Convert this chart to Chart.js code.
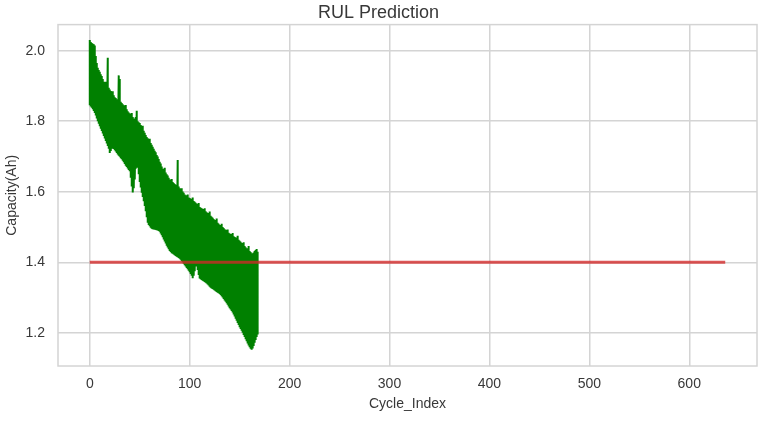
<!DOCTYPE html>
<html>
<head>
<meta charset="utf-8">
<script src="https://cdn.jsdelivr.net/npm/chart.js@4.4.1/dist/chart.umd.min.js"></script>
<style>
  html, body { margin: 0; padding: 0; background: #ffffff; }
  #wrap { width: 766px; height: 421px; }
</style>
</head>
<body>
<div id="wrap"><canvas id="c" width="766" height="421"></canvas></div>
<script>
// ---- data ----
const firstCycle = 0;
// upper edge of the oscillating capacity trace, one value per cycle (0..168)
const upperCap = [
  2.030,2.025,2.022,2.020,2.018,2.015,1.985,1.965,1.952,1.945,
  1.940,1.933,1.928,1.920,1.912,1.905,1.912,1.898,1.980,1.895,
  1.890,1.886,1.882,1.885,1.874,1.868,1.866,1.862,1.858,1.930,
  1.920,1.855,1.852,1.848,1.845,1.841,1.846,1.834,1.828,1.825,
  1.822,1.818,1.823,1.812,1.808,1.805,1.812,1.830,1.800,1.797,
  1.795,1.789,1.783,1.787,1.773,1.767,1.761,1.755,1.752,1.748,
  1.750,1.738,1.733,1.728,1.722,1.716,1.712,1.704,1.700,1.693,
  1.685,1.680,1.672,1.665,1.662,1.668,1.655,1.650,1.646,1.640,
  1.635,1.632,1.636,1.628,1.625,1.622,1.620,1.618,1.690,1.615,
  1.610,1.606,1.610,1.601,1.597,1.592,1.590,1.588,1.592,1.584,
  1.582,1.580,1.577,1.584,1.574,1.572,1.569,1.566,1.564,1.568,
  1.557,1.555,1.553,1.551,1.549,1.553,1.545,1.542,1.540,1.537,
  1.544,1.532,1.529,1.526,1.523,1.520,1.517,1.524,1.512,1.509,
  1.506,1.503,1.509,1.500,1.497,1.494,1.492,1.489,1.493,1.484,
  1.482,1.480,1.478,1.483,1.474,1.472,1.470,1.468,1.475,1.464,
  1.461,1.458,1.455,1.452,1.457,1.446,1.443,1.440,1.437,1.446,
  1.432,1.429,1.426,1.425,1.428,1.432,1.435,1.438,1.430
];
// lower edge of the oscillating capacity trace, one value per cycle (0..168)
const lowerCap = [
  1.845,1.842,1.838,1.834,1.829,1.823,1.816,1.808,1.800,1.793,
  1.786,1.779,1.772,1.765,1.758,1.751,1.744,1.737,1.730,1.722,
  1.710,1.716,1.722,1.725,1.721,1.718,1.714,1.710,1.706,1.702,
  1.699,1.695,1.692,1.688,1.684,1.679,1.674,1.670,1.666,1.662,
  1.658,1.640,1.615,1.598,1.610,1.635,1.665,1.672,1.668,1.650,
  1.628,1.612,1.597,1.585,1.573,1.560,1.545,1.528,1.512,1.506,
  1.502,1.498,1.495,1.494,1.493,1.492,1.492,1.491,1.490,1.489,
  1.487,1.482,1.477,1.471,1.465,1.459,1.453,1.447,1.442,1.437,
  1.432,1.429,1.426,1.424,1.422,1.420,1.418,1.416,1.414,1.412,
  1.410,1.407,1.404,1.400,1.396,1.392,1.388,1.384,1.380,1.376,
  1.372,1.367,1.362,1.355,1.362,1.375,1.388,1.394,1.378,1.364,
  1.354,1.352,1.350,1.348,1.346,1.344,1.342,1.340,1.337,1.334,
  1.331,1.328,1.326,1.324,1.322,1.320,1.318,1.316,1.314,1.312,
  1.310,1.307,1.304,1.300,1.296,1.292,1.288,1.284,1.280,1.275,
  1.270,1.266,1.262,1.258,1.252,1.246,1.240,1.234,1.228,1.222,
  1.216,1.211,1.206,1.200,1.194,1.188,1.182,1.176,1.170,1.164,
  1.159,1.155,1.152,1.156,1.163,1.172,1.180,1.188,1.195
];
// end-of-life threshold line
const thresholdCycles = [0, 636];
const thresholdCap = [1.4, 1.4];
// tick labels
const xTicks = [0, 100, 200, 300, 400, 500, 600];
const yTicks = [1.2, 1.4, 1.6, 1.8, 2.0];

// ---- build datasets ----
const capacityPoints = [];
for (let i = 0; i < upperCap.length; i++) {
  capacityPoints.push({ x: firstCycle + i, y: upperCap[i] });
  capacityPoints.push({ x: firstCycle + i, y: lowerCap[i] });
}
const thresholdPoints = thresholdCycles.map((c, i) => ({ x: c, y: thresholdCap[i] }));

const FONT = '"Liberation Sans", Arial, "DejaVu Sans", sans-serif';
const TXT = '#383838';
const GRID = '#d4d4d4';

const frame = {
  id: 'frame',
  beforeDatasetsDraw(chart) {
    const { ctx, chartArea: a } = chart;
    ctx.save();
    ctx.strokeStyle = GRID;
    ctx.lineWidth = 1.5;
    ctx.strokeRect(a.left, a.top, a.right - a.left, a.bottom - a.top);
    ctx.restore();
  }
};

new Chart(document.getElementById('c'), {
  type: 'line',
  data: {
    datasets: [
      {
        label: 'threshold',
        data: thresholdPoints,
        borderColor: 'rgba(210,40,40,0.78)',
        borderWidth: 3,
        pointRadius: 0,
        tension: 0
      },
      {
        label: 'capacity',
        data: capacityPoints,
        borderColor: '#008000',
        borderWidth: 2,
        pointRadius: 0,
        tension: 0
      }
    ]
  },
  options: {
    responsive: false,
    animation: false,
    layout: { padding: { left: 0, right: 9, top: 0, bottom: 0 } },
    plugins: {
      legend: { display: false },
      tooltip: { enabled: false },
      title: {
        display: true,
        text: 'RUL Prediction',
        color: TXT,
        font: { family: FONT, size: 18, weight: 'normal', lineHeight: 1.2 },
        padding: { top: 2, bottom: 1 }
      }
    },
    scales: {
      x: {
        type: 'linear',
        min: -31.8,
        max: 667.8,
        afterBuildTicks: s => { s.ticks = xTicks.map(v => ({ value: v })); },
        afterFit: s => { s.height = 55; },
        grid: { color: GRID, lineWidth: 1.5, drawTicks: false },
        border: { display: false },
        ticks: {
          color: TXT, padding: 10,
          font: { family: FONT, size: 14 },
          callback: v => String(v)
        },
        title: {
          display: true, text: 'Cycle_Index', color: TXT,
          font: { family: FONT, size: 14, lineHeight: 1.2 },
          padding: { top: 0, bottom: 8 }
        }
      },
      y: {
        type: 'linear',
        min: 1.106,
        max: 2.074,
        afterBuildTicks: s => { s.ticks = yTicks.map(v => ({ value: v })); },
        afterFit: s => { s.width = 58; },
        grid: { color: GRID, lineWidth: 1.5, drawTicks: false },
        border: { display: false },
        ticks: {
          color: TXT, padding: 13,
          font: { family: FONT, size: 14 },
          callback: v => Number(v).toFixed(1)
        },
        title: {
          display: true, text: 'Capacity(Ah)', color: TXT,
          font: { family: FONT, size: 14, lineHeight: 1.2 },
          padding: { top: 4, bottom: 0 }
        }
      }
    }
  },
  plugins: [frame]
});
</script>
</body>
</html>
